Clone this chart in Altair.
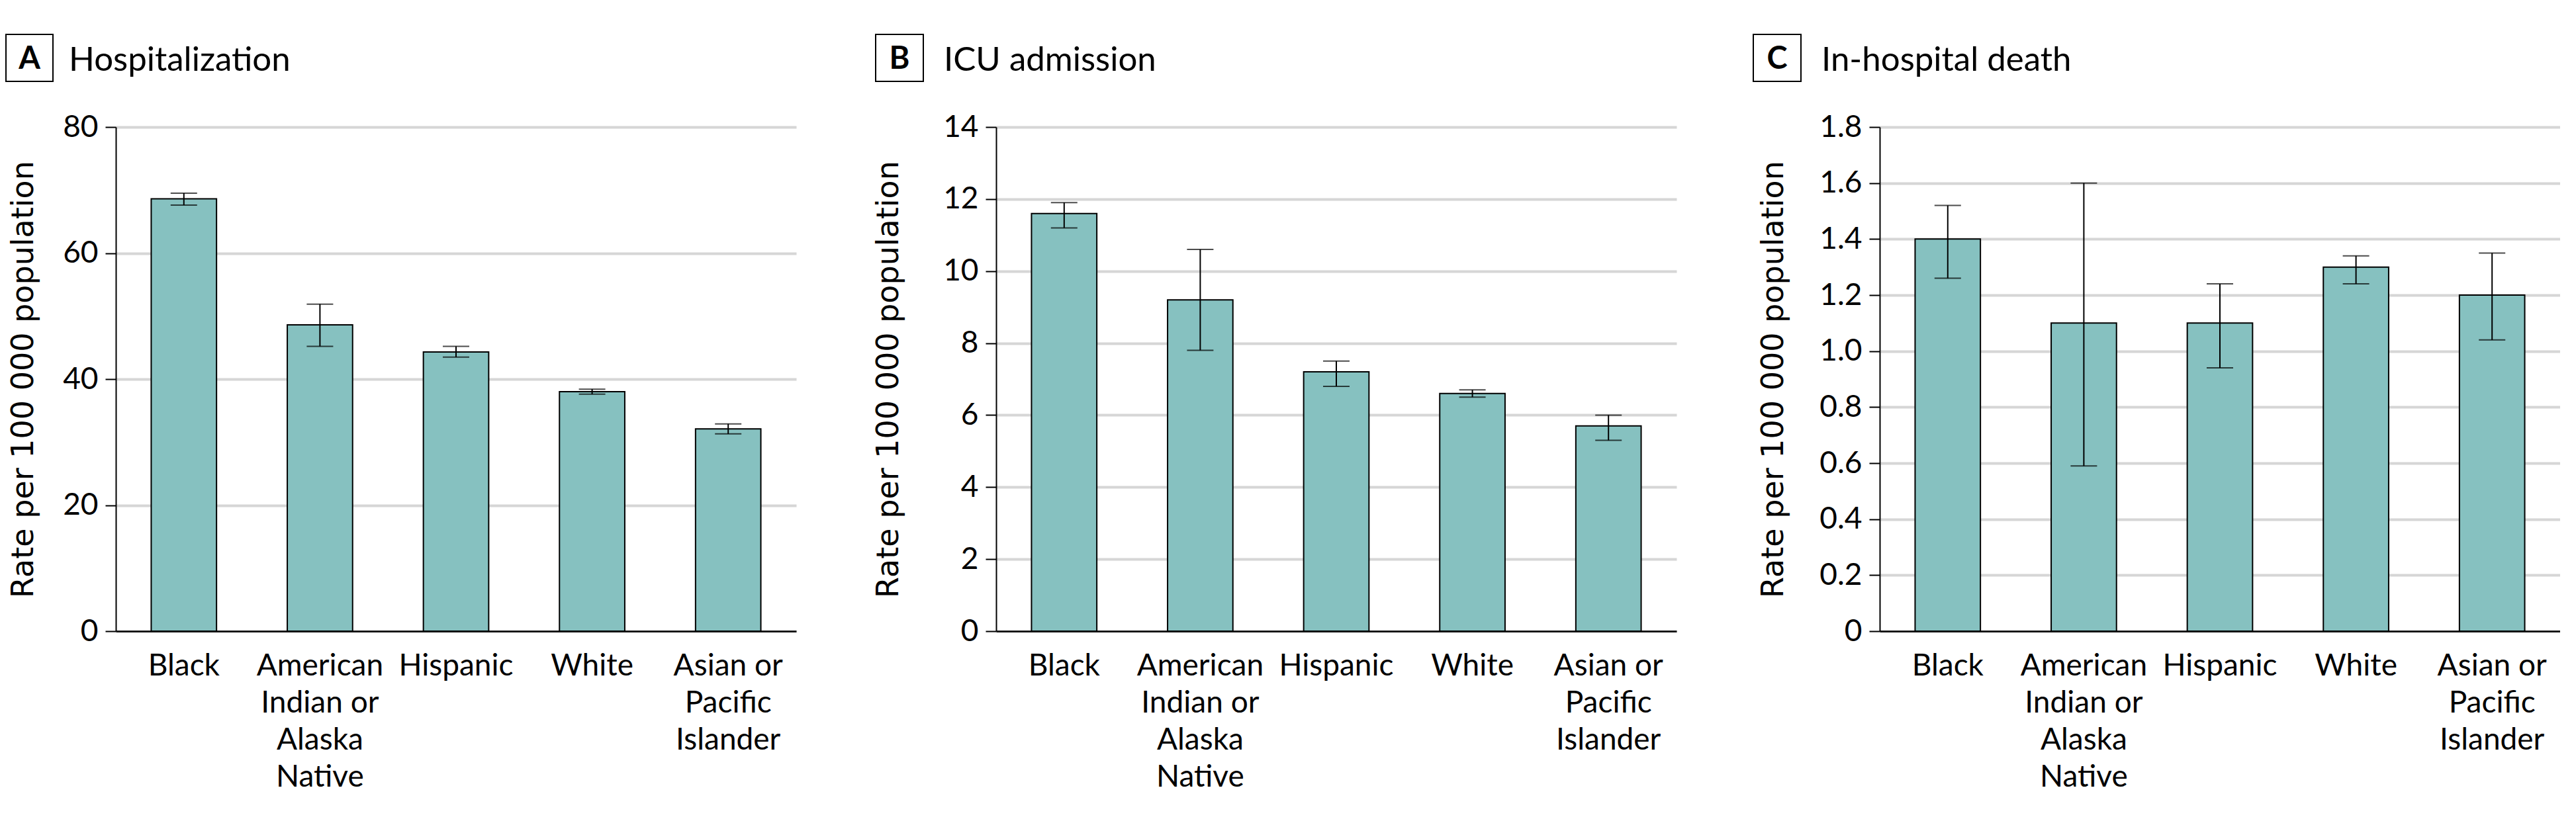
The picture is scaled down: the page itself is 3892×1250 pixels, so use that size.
import altair as alt
import pandas as pd

categories = ["Black", "American\nIndian or\nAlaska\nNative", "Hispanic", "White", "Asian or\nPacific\nIslander"]

hosp = [68.6, 48.6, 44.3, 38.0, 32.1]
hosp_lo = [67.6, 45.2, 43.5, 37.6, 31.3]
hosp_hi = [69.5, 51.9, 45.2, 38.4, 32.9]

icu = [11.6, 9.2, 7.2, 6.6, 5.7]
icu_lo = [11.2, 7.8, 6.8, 6.5, 5.3]
icu_hi = [11.9, 10.6, 7.5, 6.7, 6.0]

death = [1.4, 1.1, 1.1, 1.3, 1.2]
death_lo = [1.26, 0.59, 0.94, 1.24, 1.04]
death_hi = [1.52, 1.60, 1.24, 1.34, 1.35]

hosp_ticks = [0, 20, 40, 60, 80]
icu_ticks = [0, 2, 4, 6, 8, 10, 12, 14]
death_ticks = [0, 0.2, 0.4, 0.6, 0.8, 1.0, 1.2, 1.4, 1.6, 1.8]

panel_letters = ["A", "B", "C"]
panel_titles = ["Hospitalization", "ICU admission", "In-hospital death"]
y_title = "Rate per 100 000 population"

BAR_FILL = "#86c1c0"
LABEL_FONT = "Lato"
W, H = 1028, 762


def panel(vals, lo, hi, ticks, ymax, letter, title, hdr, title_x, label_expr):
    df = pd.DataFrame({"cat": categories, "v": vals, "lo": lo, "hi": hi})
    base = alt.Chart(df)
    xs = alt.Scale(paddingInner=0.52, paddingOuter=0.26)
    xaxis = alt.Axis(title=None, labelAngle=0, ticks=False, tickSize=0,
                     labelExpr="split(datum.value, '\\n')",
                     labelFont=LABEL_FONT, labelFontSize=46, labelLineHeight=56,
                     labelBaseline="top", labelPadding=30, labelLimit=0,
                     labelColor="black", domainColor="black", domainWidth=2.5,
                     grid=False)
    x = alt.X("cat:N", sort=categories, scale=xs, axis=xaxis)
    ysc = alt.Scale(domain=[0, ymax], nice=False, zero=True)
    yaxis = alt.Axis(values=ticks, title=y_title, titleX=title_x,
                     titleFont="DejaVu Sans", titleFontSize=46,
                     titleFontWeight="normal", titleColor="black",
                     labelFont=LABEL_FONT, labelFontSize=46, labelColor="black",
                     labelPadding=11, tickSize=16, tickWidth=2, tickColor="black",
                     domainColor="black", domainWidth=2,
                     grid=True, gridColor="#d6d6d6", gridWidth=4,
                     labelExpr=label_expr)
    bars = base.mark_bar(fill=BAR_FILL, stroke="black", strokeWidth=2).encode(
        x=x, y=alt.Y("v:Q", scale=ysc, axis=yaxis, title=y_title))
    rule = base.mark_rule(color="black", strokeWidth=2).encode(
        x=x, y=alt.Y("lo:Q", scale=ysc, axis=yaxis, title=y_title), y2="hi:Q")
    cap_lo = base.mark_tick(color="black", size=40, thickness=2).encode(
        x=x, y=alt.Y("lo:Q", scale=ysc, axis=yaxis, title=y_title))
    cap_hi = base.mark_tick(color="black", size=40, thickness=2).encode(
        x=x, y=alt.Y("hi:Q", scale=ysc, axis=yaxis, title=y_title))

    hdf = pd.DataFrame({"letter": [letter], "title": [title]})
    hb = alt.Chart(hdf)
    bx0, bx1, ttx = hdr
    box = hb.mark_rect(fill="white", stroke="black", strokeWidth=2).encode(
        x=alt.value(bx0), x2=alt.value(bx1), y=alt.value(-140), y2=alt.value(-69))
    let = hb.mark_text(font=LABEL_FONT, fontSize=47, fontWeight="bold", align="center",
                       baseline="alphabetic", color="black").encode(
        text="letter:N", x=alt.value((bx0 + bx1) / 2), y=alt.value(-88))
    ttl = hb.mark_text(font=LABEL_FONT, fontSize=51, align="left",
                       baseline="alphabetic", color="black").encode(
        text="title:N", x=alt.value(ttx), y=alt.value(-85))
    return alt.layer(bars, rule, cap_lo, cap_hi, box, let, ttl).properties(
        width=W, height=H, view=alt.ViewBackground(strokeWidth=0, strokeOpacity=0))


pA = panel(hosp, hosp_lo, hosp_hi, hosp_ticks, 80, panel_letters[0], panel_titles[0],
           (-166, -95, -71), -116, "datum.label")
pB = panel(icu, icu_lo, icu_hi, icu_ticks, 14, panel_letters[1], panel_titles[1],
           (-182, -110, -79), -139, "datum.label")
pC = panel(death, death_lo, death_hi, death_ticks, 1.8, panel_letters[2], panel_titles[2],
           (-191, -119, -88), -137, "datum.value == 0 ? '0' : format(datum.value, '.1f')")

chart = alt.hconcat(pA, pB, pC, spacing=115).resolve_scale(y="independent").properties(
    padding={"top": 43, "left": 0, "right": 0, "bottom": 0}
).configure_view(strokeWidth=0, stroke="transparent").configure(background="white")

chart.save("out.html", embed_options={"renderer": "svg", "actions": False})
